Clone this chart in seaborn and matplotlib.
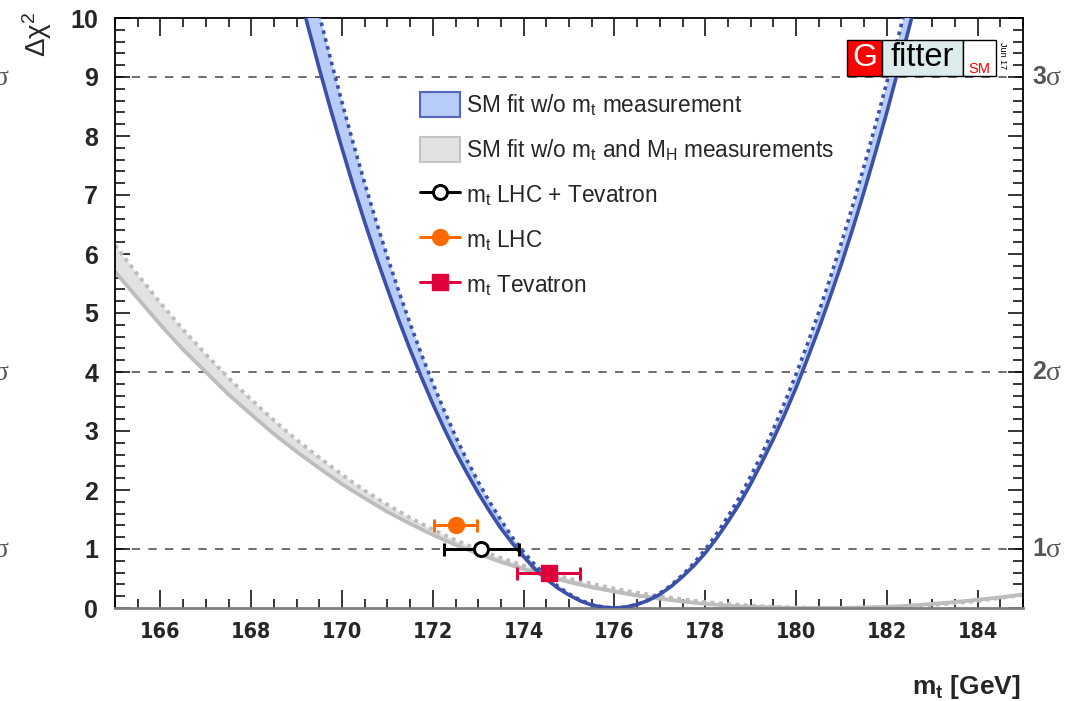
import numpy as np
import pandas as pd
import matplotlib
matplotlib.use('Agg')
import matplotlib.pyplot as plt
import seaborn as sns
from matplotlib.patches import Patch, Rectangle
from matplotlib.lines import Line2D
from matplotlib import font_manager

# ---------------- data ----------------
mt_blue = [169.0, 169.25, 169.5, 169.75, 170.0, 170.25, 170.5, 170.75, 171.0, 171.25,
           171.5, 171.75, 172.0, 172.25, 172.5, 172.75, 173.0, 173.25, 173.5, 173.75,
           174.0, 174.25, 174.5, 174.75, 175.0, 175.25, 175.5, 175.75, 176.0, 176.25,
           176.5, 176.75, 177.0, 177.25, 177.5, 177.75, 178.0, 178.25, 178.5, 178.75,
           179.0, 179.25, 179.5, 179.75, 180.0, 180.25, 180.5, 180.75, 181.0, 181.25,
           181.5, 181.75, 182.0, 182.25, 182.5, 182.75]
blue_solid = [10.60, 9.86, 9.14, 8.45, 7.79, 7.15, 6.54, 5.96, 5.41, 4.88,
              4.38, 3.91, 3.46, 3.04, 2.65, 2.29, 1.95, 1.64, 1.35, 1.10,
              0.87, 0.66, 0.49, 0.34, 0.22, 0.12, 0.05, 0.014, 0.0, 0.015,
              0.06, 0.13, 0.23, 0.365, 0.53, 0.715, 0.93, 1.18, 1.46, 1.76,
              2.10, 2.47, 2.86, 3.28, 3.73, 4.22, 4.73, 5.27, 5.83, 6.43,
              7.06, 7.72, 8.40, 9.12, 9.86, 10.63]
blue_dotted = [11.66, 10.84, 10.05, 9.30, 8.57, 7.87, 7.20, 6.56, 5.95, 5.37,
               4.82, 4.30, 3.81, 3.35, 2.91, 2.51, 2.14, 1.80, 1.49, 1.20,
               0.95, 0.73, 0.54, 0.37, 0.24, 0.134, 0.06, 0.015, 0.0, 0.016,
               0.06, 0.139, 0.25, 0.387, 0.56, 0.758, 0.99, 1.253, 1.55, 1.872,
               2.23, 2.614, 3.03, 3.481, 3.96, 4.471, 5.01, 5.585, 6.19, 6.822,
               7.49, 8.184, 8.91, 9.669, 10.46, 11.28]

mt_gray = [165.0, 165.5, 166.0, 166.5, 167.0, 167.5, 168.0, 168.5, 169.0, 169.5,
           170.0, 170.5, 171.0, 171.5, 172.0, 172.5, 173.0, 173.5, 174.0, 174.5,
           175.0, 175.5, 176.0, 176.5, 177.0, 177.5, 178.0, 178.5, 179.0, 179.5,
           180.0, 180.5, 181.0, 181.5, 182.0, 182.5, 183.0, 183.5, 184.0, 184.5, 185.0]
gray_solid = [5.70, 5.25, 4.80, 4.38, 4.00, 3.62, 3.28, 2.95, 2.65, 2.37,
              2.10, 1.86, 1.63, 1.43, 1.24, 1.07, 0.92, 0.78, 0.66, 0.54,
              0.44, 0.35, 0.28, 0.21, 0.16, 0.11, 0.07, 0.04, 0.02, 0.01,
              0.00, 0.00, 0.00, 0.01, 0.02, 0.04, 0.07, 0.10, 0.14, 0.18, 0.23]
gray_dotted = [6.15, 5.65, 5.17, 4.72, 4.30, 3.90, 3.53, 3.18, 2.85, 2.55,
               2.26, 1.99, 1.75, 1.53, 1.33, 1.15, 0.99, 0.85, 0.72, 0.60,
               0.50, 0.41, 0.33, 0.26, 0.20, 0.15, 0.10, 0.07, 0.04, 0.02,
               0.01, 0.00, 0.00, 0.00, 0.01, 0.03, 0.05, 0.08, 0.12, 0.17, 0.22]

meas_names = ['LHC + Tevatron', 'LHC', 'Tevatron']
meas_mt = [173.07, 172.50, 174.55]
meas_err = [0.82, 0.48, 0.69]
meas_chi2 = [1.00, 1.40, 0.59]

sigma_levels = [1, 4, 9]
sigma_numbers = ['1', '2', '3']
xtick_values = [166, 168, 170, 172, 174, 176, 178, 180, 182, 184]
ytick_values = [0, 1, 2, 3, 4, 5, 6, 7, 8, 9, 10]

# ---------------- style ----------------
W, H = 1070, 701
sns.set_theme(style='ticks')
plt.rcParams['font.family'] = ['Liberation Sans', 'DejaVu Sans']
plt.rcParams['mathtext.fontset'] = 'custom'
plt.rcParams['mathtext.rm'] = 'Liberation Sans'
plt.rcParams['mathtext.it'] = 'Liberation Sans:italic'
plt.rcParams['mathtext.bf'] = 'Liberation Sans:bold'

fonts = font_manager.fontManager.ttflist
names = {f.name for f in fonts}
if 'Liberation Sans Narrow' in names:
    xfont = dict(family=['Liberation Sans Narrow'], stretch='normal', size=17.5)
elif any(f.name == 'DejaVu Sans' and 'ondensed' in str(f.stretch) + f.fname for f in fonts):
    xfont = dict(family=['DejaVu Sans'], stretch='condensed', size=15.5)
else:
    xfont = dict(family=['Liberation Sans'], stretch='normal', size=15.5)

BLUE = '#3d50a8'
BLUE_FILL = '#b7cdf7'
GRAY = '#bdbdbd'
GRAY_FILL = '#e2e2e2'
ORANGE = '#ff6a00'
RED = '#e0003c'
SIGC = '#555555'

fig = plt.figure(figsize=(W / 100, H / 100), dpi=100)
ax = fig.add_axes([115 / W, 1 - 608 / H, (1023 - 115) / W, (608 - 18) / H])

px = 0.72  # points per pixel

df_b = pd.DataFrame({'mt': mt_blue, 'solid': blue_solid, 'dotted': blue_dotted})
df_g = pd.DataFrame({'mt': mt_gray, 'solid': gray_solid, 'dotted': gray_dotted})

# gray band
ax.fill_between(df_g['mt'], df_g['solid'], df_g['dotted'], color=GRAY_FILL, lw=0, zorder=1)
sns.lineplot(data=df_g, x='mt', y='solid', ax=ax, color=GRAY, lw=3.8 * px, sort=False,
             estimator=None, zorder=2)
sns.lineplot(data=df_g, x='mt', y='dotted', ax=ax, color=GRAY, lw=3.8 * px, sort=False,
             estimator=None, zorder=2)
ax.lines[-1].set_linestyle((0, (1, 1.2)))
ax.lines[-1].set_dash_capstyle('butt')

# blue band
ax.fill_between(df_b['mt'], df_b['solid'], df_b['dotted'], color=BLUE_FILL, lw=0, zorder=3)
sns.lineplot(data=df_b, x='mt', y='solid', ax=ax, color=BLUE, lw=3.6 * px, sort=False,
             estimator=None, zorder=4)
sns.lineplot(data=df_b, x='mt', y='dotted', ax=ax, color=BLUE, lw=3.6 * px, sort=False,
             estimator=None, zorder=4)
ax.lines[-1].set_linestyle((0, (1, 1.25)))
ax.lines[-1].set_dash_capstyle('butt')

# sigma lines
for lev in sigma_levels:
    ax.axhline(lev, color=SIGC, lw=1.2, ls=(0, (5, 5)), zorder=0.5)

# measurements
styles = [dict(marker='o', mfc='white', mec='black', color='black', ms=14 * px, mew=3 * px),
          dict(marker='o', mfc=ORANGE, mec=ORANGE, color=ORANGE, ms=16 * px, mew=1),
          dict(marker='s', mfc=RED, mec=RED, color=RED, ms=16 * px, mew=1)]
for xv, ev, yv, st in zip(meas_mt, meas_err, meas_chi2, styles):
    ax.errorbar(xv, yv, xerr=ev, fmt='none', ecolor=st['color'], elinewidth=3 * px,
                capsize=6.5 * px, capthick=3 * px, zorder=6)
    ax.plot([xv], [yv], ls='none', marker=st['marker'], mfc=st['mfc'], mec=st['mec'],
            ms=st['ms'], mew=st['mew'], zorder=7)

# axes
ax.set_xlim(165, 185)
ax.set_ylim(0, 10)
ax.set_xticks(xtick_values)
ax.set_yticks(ytick_values)
ax.set_xticks(np.arange(165, 185.01, 0.5), minor=True)
ax.set_yticks(np.arange(0, 10.01, 0.2), minor=True)
ax.set_xlabel('')
ax.set_ylabel('')
ax.tick_params(which='both', direction='in', top=True, right=True, color='black', width=1.1)
ax.tick_params(axis='x', which='major', length=18 * px, pad=10)
ax.tick_params(axis='x', which='minor', length=9 * px)
ax.tick_params(axis='y', which='major', length=15 * px, pad=12, labelsize=18)
ax.tick_params(axis='y', which='minor', length=10 * px)
for lbl in ax.get_yticklabels():
    lbl.set_fontweight('bold')
for lbl in ax.get_xticklabels():
    lbl.set_fontweight('bold')
    lbl.set_family(xfont['family'])
    lbl.set_fontstretch(xfont['stretch'])
    lbl.set_fontsize(xfont['size'])
for s in ax.spines.values():
    s.set_linewidth(1.3)
    s.set_color('black')
ax.spines['bottom'].set_color('#808080')
ax.spines['bottom'].set_linewidth(2)

# sigma labels on right and partly visible ones at the left edge
for lev, num in zip(sigma_levels, sigma_numbers):
    yf = 1 - (608 - lev * 59) / H
    fig.text(1032 / W, yf, num, fontsize=18, fontweight='bold', color=SIGC,
             ha='left', va='center')
    fig.text(1046 / W, yf - 1.5 / H, 'σ', fontsize=20, color=SIGC, ha='left', va='center',
             family=['Liberation Serif', 'DejaVu Serif'])
    fig.text(-6 / W, yf - 1.5 / H, 'σ', fontsize=20, color=SIGC, ha='left', va='center',
             family=['Liberation Serif', 'DejaVu Serif'])

# axis titles
fig.text(37 / W, 1 - 12 / H, r'$\mathrm{\Delta\chi}^{2}$', fontsize=20, rotation=90,
         ha='center', va='top')
fig.text(1021 / W, 1 - 694 / H, r'$\mathbf{m}_{\mathbf{t}}$ [GeV]', fontsize=19,
         fontweight='bold', ha='right', va='baseline')

# legend
handles = [Patch(facecolor=BLUE_FILL, edgecolor='#5468c0', lw=1.5),
           Patch(facecolor=GRAY_FILL, edgecolor='#c4c4c4', lw=1.5),
           Line2D([], [], color='black', lw=3 * px, marker='o', mfc='white', mec='black',
                  ms=14 * px, mew=3 * px),
           Line2D([], [], color=ORANGE, lw=3 * px, marker='o', mfc=ORANGE, mec=ORANGE,
                  ms=16 * px),
           Line2D([], [], color=RED, lw=3 * px, marker='s', mfc=RED, mec=RED, ms=16 * px)]
labels = [r'SM fit w/o m$_\mathrm{t}$ measurement',
          r'SM fit w/o m$_\mathrm{t}$ and M$_\mathrm{H}$ measurements',
          r'm$_\mathrm{t}$ ' + meas_names[0],
          r'm$_\mathrm{t}$ ' + meas_names[1],
          r'm$_\mathrm{t}$ ' + meas_names[2]]
ax.legend(handles, labels, loc='upper left', bbox_to_anchor=((420 - 115) / 908, (608 - 92) / 590),
          frameon=False, fontsize=16.3, handlelength=1.75, handleheight=1.3,
          handletextpad=0.3, labelspacing=0.85, borderpad=0, borderaxespad=0)

# logo
def box(x0, y0, x1, y1, fc):
    r = Rectangle((x0 / W, 1 - y1 / H), (x1 - x0) / W, (y1 - y0) / H, transform=fig.transFigure,
                  facecolor=fc, edgecolor='black', lw=1.0, zorder=10)
    fig.add_artist(r)

box(847, 40, 882, 76, '#ff0000')
box(882, 40, 963, 76, '#dcecec')
box(963, 40, 996, 76, 'white')
fig.text(864.5 / W, 1 - 58.5 / H, 'G', fontsize=23, color='white', ha='center', va='center', zorder=11)
fig.text(922.5 / W, 1 - 57 / H, 'fitter', fontsize=23.5, color='black', ha='center', va='center', zorder=11)
fig.text(979.5 / W, 1 - 73 / H, 'SM', fontsize=10.5, color='#ff0000', ha='center', va='baseline', zorder=11)
fig.text(1003 / W, 1 - 42 / H, 'Jun 17', fontsize=6.5, color='black', rotation=-90,
         ha='center', va='top', zorder=11)

fig.savefig('out.png', dpi=100)
